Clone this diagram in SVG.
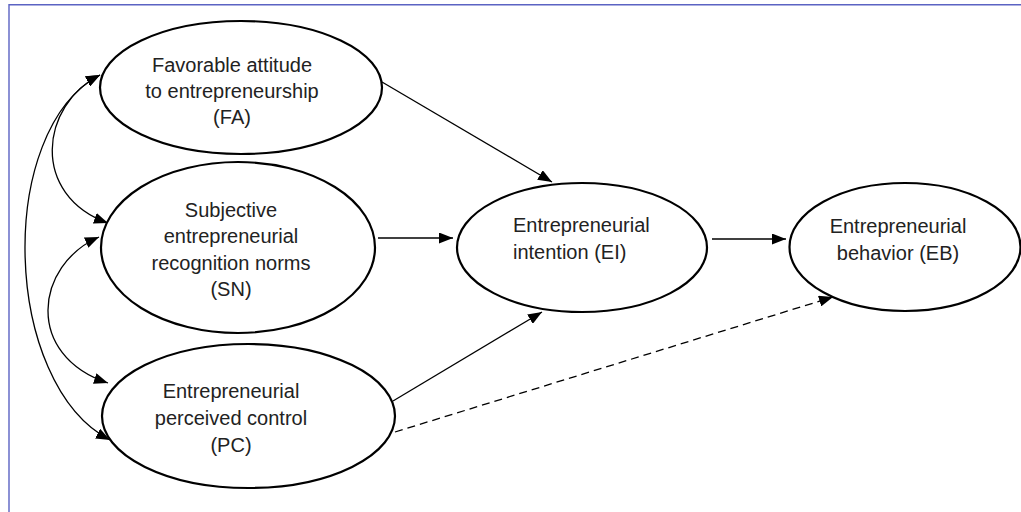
<svg xmlns="http://www.w3.org/2000/svg" width="1021" height="512" viewBox="0 0 1021 512">
  <defs>
    <marker id="arrow" markerUnits="userSpaceOnUse" markerWidth="14" markerHeight="11" refX="14" refY="5.5" orient="auto-start-reverse">
      <path d="M0,0 L14,5.5 L0,11 Z" fill="#000"/>
    </marker>
    <style>
      .frame { fill: none; stroke: #5b63c3; stroke-width: 1.4; }
      .node ellipse { fill: #fff; stroke: #000; stroke-width: 2.2; }
      .node text { font-family: "Liberation Sans", Arial, sans-serif; font-size: 20px; fill: #222; }
      .mid { text-anchor: middle; }
      .edge { fill: none; stroke: #000; stroke-width: 1.3; }
      .one { marker-end: url(#arrow); }
      .two { marker-start: url(#arrow); marker-end: url(#arrow); }
      .dash { stroke-dasharray: 8 5; }
    </style>
  </defs>

  <rect width="1021" height="512" fill="#fff"/>
  <path class="frame" d="M9,512 V4.7 H1021"/>

  <g id="connectors">
    <!-- correlations between the three antecedents -->
    <path class="edge two" d="M100,75 C40,105 30,195 108,223"/>
    <path class="edge two" d="M99,237 C35,265 24,355 108,383"/>
    <path class="edge two" d="M100,75 C-5,130 2,384 110,440"/>
    <!-- paths into intention and behavior -->
    <path class="edge one" d="M382,82 L552,182"/>
    <path class="edge one" d="M378,238 L453,238"/>
    <path class="edge one" d="M393,401 L542,312"/>
    <path class="edge one" d="M712,239 L786,239"/>
    <path class="edge one dash" d="M395,432 L833,297"/>
  </g>

  <g id="FA" class="node">
    <ellipse cx="241" cy="87.5" rx="141" ry="66.5"/>
    <text class="mid" x="232" y="72">Favorable attitude</text>
    <text class="mid" x="232" y="98">to entrepreneurship</text>
    <text class="mid" x="232" y="124">(FA)</text>
  </g>

  <g id="SN" class="node">
    <ellipse cx="238" cy="247.5" rx="137" ry="85.5"/>
    <text class="mid" x="231" y="217">Subjective</text>
    <text class="mid" x="231" y="243">entrepreneurial</text>
    <text class="mid" x="231" y="270">recognition norms</text>
    <text class="mid" x="231" y="296">(SN)</text>
  </g>

  <g id="PC" class="node">
    <ellipse cx="248.5" cy="416" rx="146.5" ry="72"/>
    <text class="mid" x="231" y="398">Entrepreneurial</text>
    <text class="mid" x="231" y="425">perceived control</text>
    <text class="mid" x="231" y="452">(PC)</text>
  </g>

  <g id="EI" class="node">
    <ellipse cx="582" cy="247.5" rx="125" ry="64.5"/>
    <text x="513" y="232">Entrepreneurial</text>
    <text x="513" y="259">intention (EI)</text>
  </g>

  <g id="EB" class="node">
    <ellipse cx="905" cy="247" rx="115.5" ry="64"/>
    <text class="mid" x="898" y="233">Entrepreneurial</text>
    <text class="mid" x="898" y="260">behavior (EB)</text>
  </g>
</svg>
